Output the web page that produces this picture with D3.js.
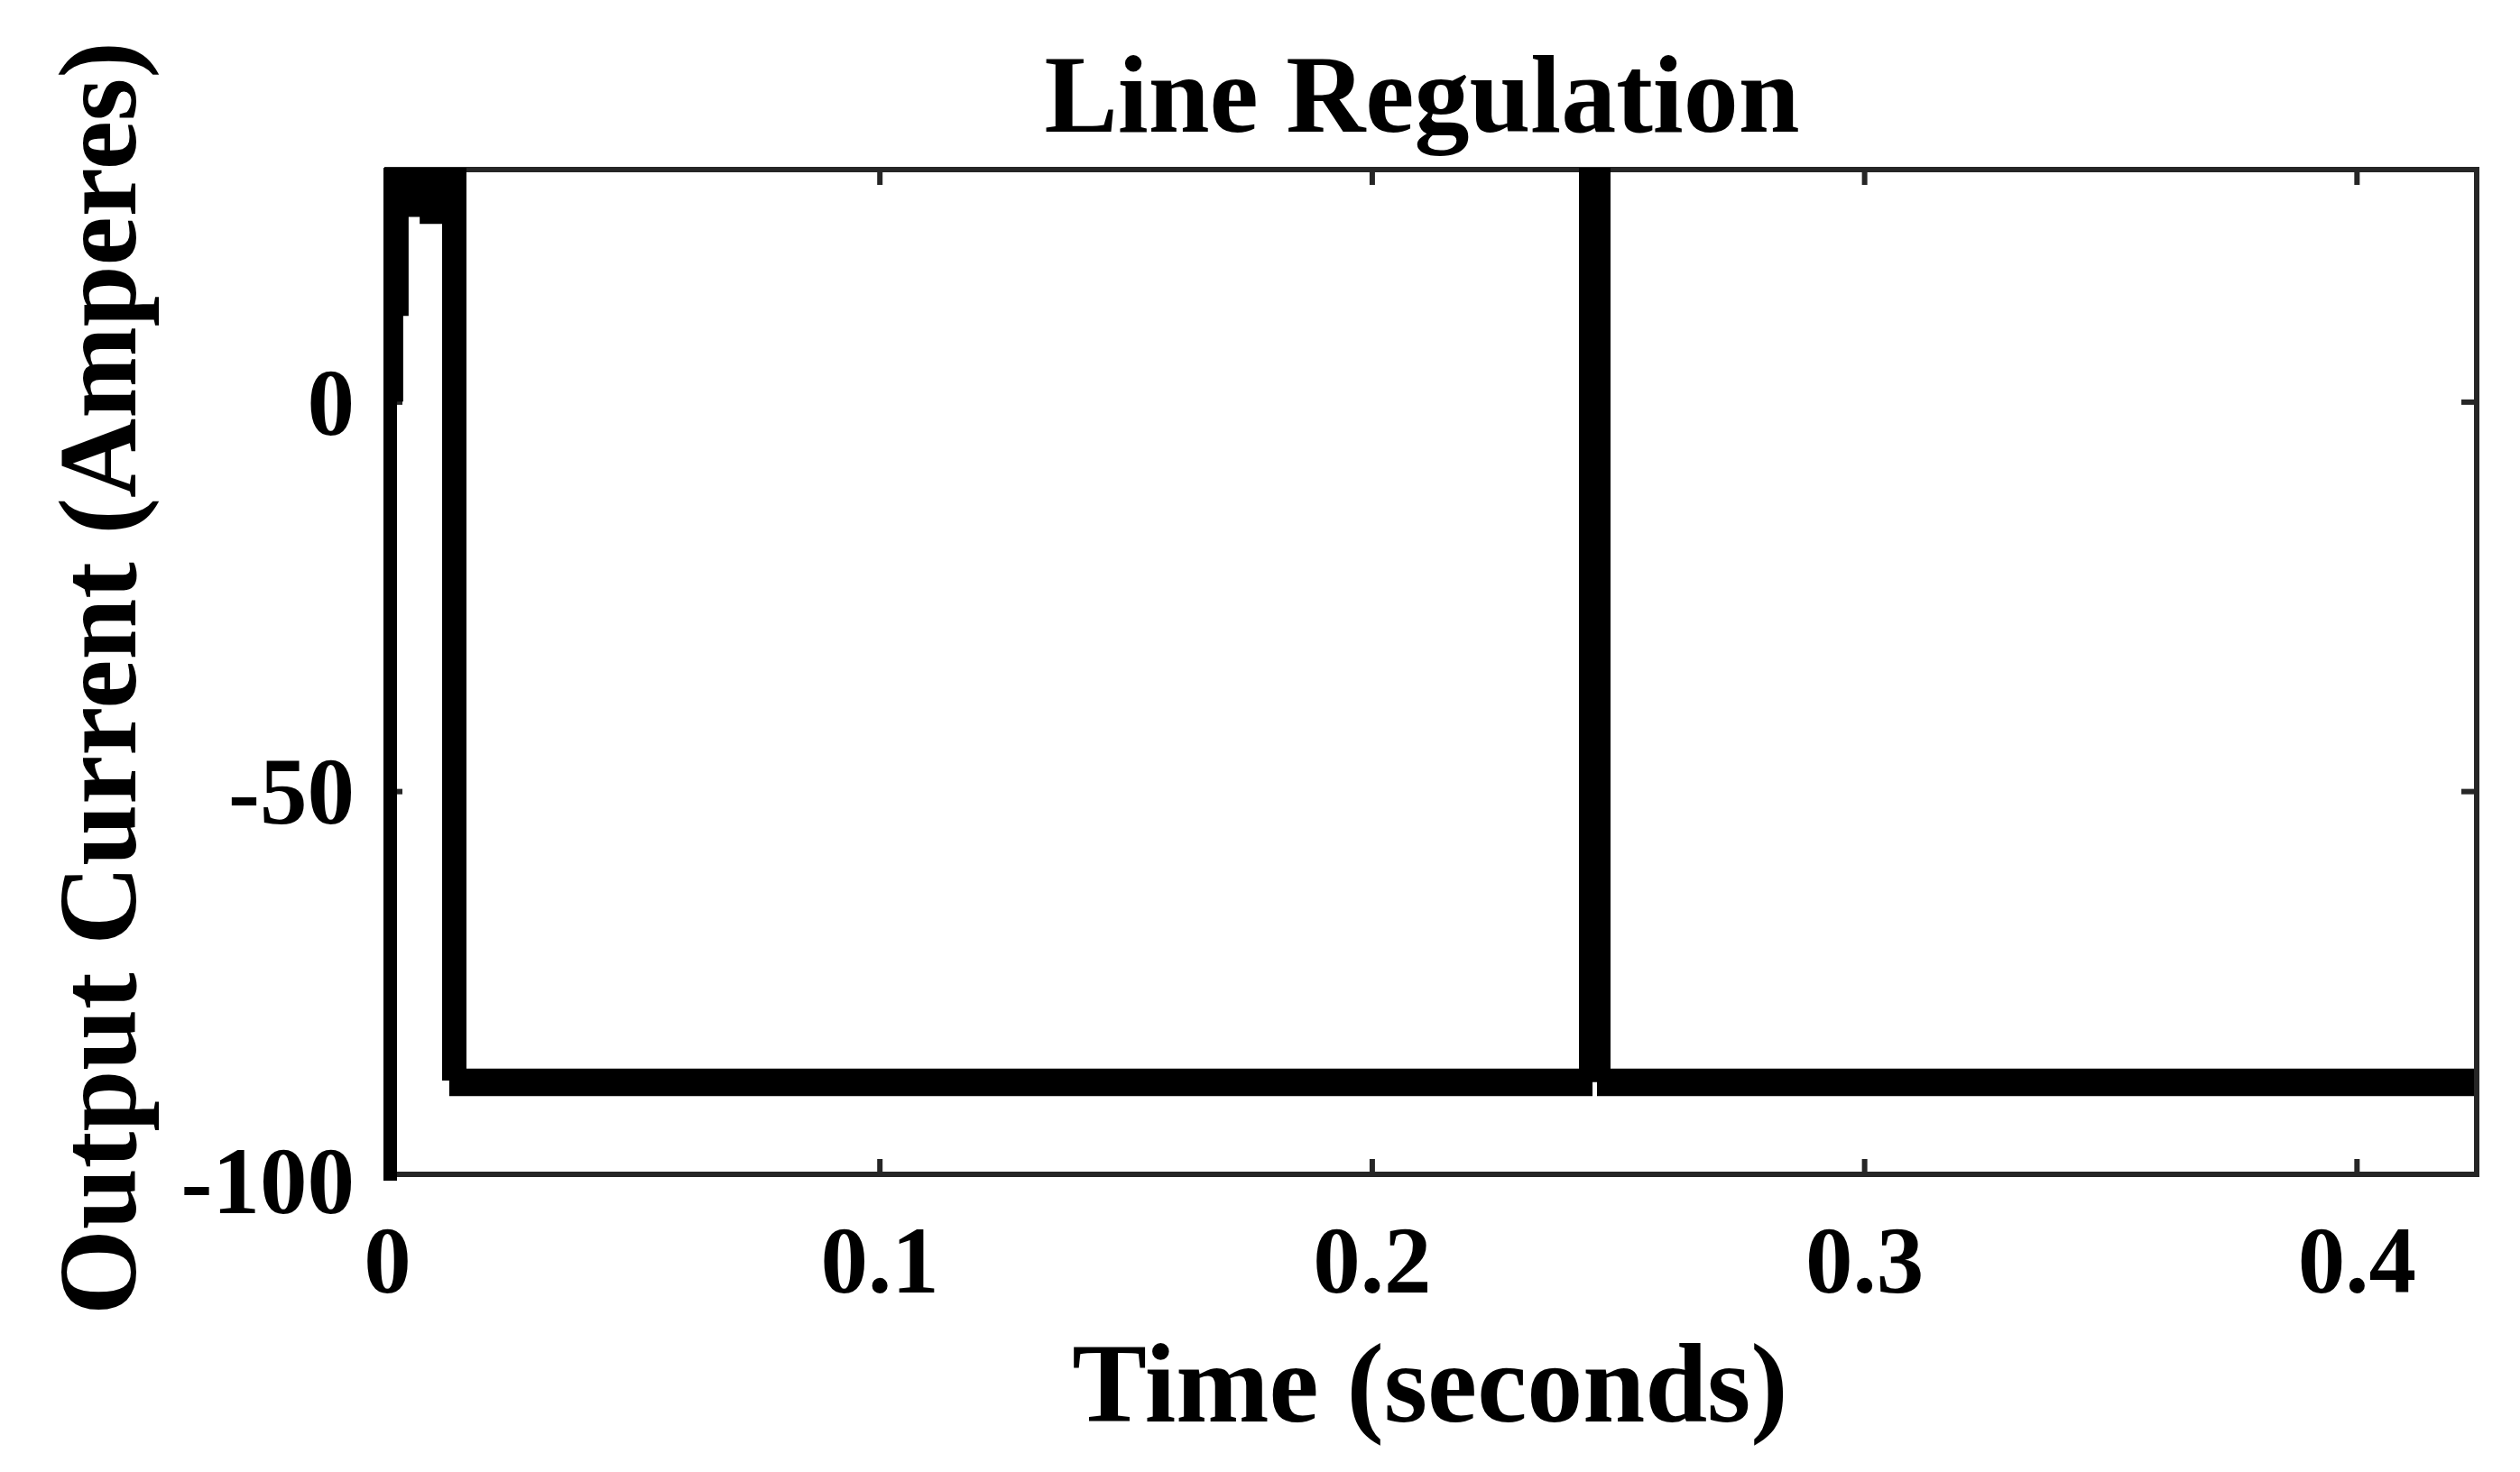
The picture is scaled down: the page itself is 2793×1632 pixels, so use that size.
<!DOCTYPE html>
<html><head><meta charset="utf-8">
<script src="https://cdn.jsdelivr.net/npm/d3@7"></script>
<style>html,body{margin:0;padding:0;background:#fff;} svg{display:block;}</style>
</head><body>
<svg id="chart" width="2793" height="1632"></svg>
<script>
// Output current envelope (min / max of the simulated waveform) versus time
const time       = [0.00064, 0.00064, 0.0019, 0.0019, 0.0019, 0.0030, 0.0030, 0.0030, 0.0080, 0.0080, 0.01255, 0.01255, 0.0140, 0.0140, 0.01475, 0.01475, 0.24345, 0.24345, 0.24711, 0.24711, 0.43];
const currentMin = [-100, 35, 35, 0, 35, 35, 11, 24.6, 24.6, 23.7, 23.7, -86.3, -86.3, -88.3, -88.3, -88.3, -88.3, -86.5, -86.5, -88.3, -88.3];
const currentMax = [-100, 35, 35, 35, 35, 35, 35, 35, 35, 35, 35, 35, 35, 35, 35, -86.5, -86.5, 35, 35, -86.5, -86.5];

const xTicks = [0, 0.1, 0.2, 0.3, 0.4];
const xTickLabels = ["0", "0.1", "0.2", "0.3", "0.4"];
const yTicks = [-100, -50, 0];
const yTickLabels = ["-100", "-50", "0"];
const xDomain = [0, 0.4244];
const yDomain = [-99.2, 29.8];

const titleText = "Line Regulation";
const xLabelText = "Time (seconds)";
const yLabelText = "Output Current (Amperes)";

const FONT = "'Liberation Serif', 'Times New Roman', serif";
const AXC = "#262626";
const m = {left: 429, right: 2745, top: 188, bottom: 1302};

const svg = d3.select("#chart");
svg.append("rect").attr("width", 2793).attr("height", 1632).attr("fill", "#fff");

const x = d3.scaleLinear().domain(xDomain).range([m.left, m.right]);
const y = d3.scaleLinear().domain(yDomain).range([m.bottom, m.top]);

function styleAxis(g, withText) {
  g.attr("font-family", FONT).attr("font-size", 105).attr("font-weight", "bold");
  g.select(".domain").remove();
  g.selectAll(".tick line").attr("stroke", AXC).attr("stroke-width", 6);
  g.selectAll(".tick text").attr("fill", "#000");
  if (!withText) g.selectAll(".tick text").remove();
}
function inDomain(sc, v) { const d = sc.domain(); return v >= Math.min(d[0], d[1]) && v <= Math.max(d[0], d[1]); }

// bottom axis
const gx = svg.append("g").attr("transform", `translate(0,${m.bottom})`)
  .call(d3.axisBottom(x).tickValues(xTicks).tickSize(-17).tickFormat((d, i) => xTickLabels[i]));
styleAxis(gx, true);
gx.selectAll(".tick text").attr("y", 131).attr("dy", null);
// top axis
const gxt = svg.append("g").attr("transform", `translate(0,${m.top})`)
  .call(d3.axisTop(x).tickValues(xTicks).tickSize(-17).tickFormat(""));
styleAxis(gxt, false);
// left axis
const gy = svg.append("g").attr("transform", `translate(${m.left},0)`)
  .call(d3.axisLeft(y).tickValues(yTicks).tickSize(-17).tickFormat((d, i) => yTickLabels[i]));
styleAxis(gy, true);
gy.selectAll(".tick text").attr("x", -36).attr("dy", "0.34em");
gy.selectAll(".tick").filter(d => !inDomain(y, d)).select("line").remove();
// right axis
const gyr = svg.append("g").attr("transform", `translate(${m.right},0)`)
  .call(d3.axisRight(y).tickValues(yTicks).tickSize(-17).tickFormat(""));
styleAxis(gyr, false);
gyr.selectAll(".tick").filter(d => !inDomain(y, d)).remove();

// frame
svg.append("rect")
  .attr("x", x(xDomain[0])).attr("y", y(yDomain[1]))
  .attr("width", x(xDomain[1]) - x(xDomain[0]))
  .attr("height", y(yDomain[0]) - y(yDomain[1]))
  .attr("fill", "none").attr("stroke", AXC).attr("stroke-width", 6);

// data
svg.append("clipPath").attr("id", "clip").append("rect")
  .attr("x", m.left - 14).attr("y", m.top - 2)
  .attr("width", m.right - 3 - (m.left - 14)).attr("height", m.bottom + 20 - (m.top - 2));

const data = time.map((t, i) => ({t, lo: currentMin[i], hi: currentMax[i]}));
const area = d3.area().x(d => x(d.t)).y0(d => y(d.lo)).y1(d => y(d.hi));
svg.append("path")
  .attr("clip-path", "url(#clip)")
  .attr("d", area(data))
  .attr("fill", "#000").attr("stroke", "#000")
  .attr("stroke-width", 15).attr("stroke-linejoin", "miter");

// labels
svg.append("text").text(titleText)
  .attr("x", 1576).attr("y", 146).attr("text-anchor", "middle")
  .attr("font-family", FONT).attr("font-weight", "bold").attr("font-size", 122).attr("fill", "#000");
svg.append("text").text(xLabelText)
  .attr("x", 1585).attr("y", 1576).attr("text-anchor", "middle")
  .attr("font-family", FONT).attr("font-weight", "bold").attr("font-size", 124).attr("fill", "#000");
svg.append("text").text(yLabelText)
  .attr("transform", "translate(150,752) rotate(-90)").attr("text-anchor", "middle")
  .attr("font-family", FONT).attr("font-weight", "bold").attr("font-size", 122).attr("fill", "#000");
</script>
</body></html>
